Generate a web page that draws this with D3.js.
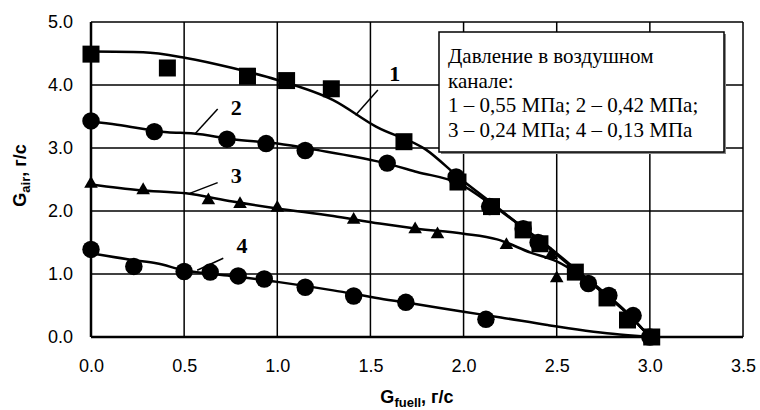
<!DOCTYPE html>
<html>
<head>
<meta charset="utf-8">
<script src="https://cdn.jsdelivr.net/npm/d3@7"></script>
<style>
  body { margin: 0; background: #fff; }
  .tick-label { font: 18px "Liberation Sans", Arial, sans-serif; fill: #000; }
  .axis-title { font: bold 18px "Liberation Sans", Arial, sans-serif; fill: #000; }
  .legend-text { font: 21px "Liberation Serif", "Times New Roman", serif; fill: #000; }
  .curve-label { font: bold 22px "Liberation Serif", "Times New Roman", serif; fill: #000; }
</style>
</head>
<body>
<div class="chart1"></div>
<script>
// ticks
var xTicks = [0.0, 0.5, 1.0, 1.5, 2.0, 2.5, 3.0, 3.5];
var yTicks = [0.0, 1.0, 2.0, 3.0, 4.0, 5.0];

// measured points [G_fuell, G_air]
var points1 = [[0.0, 4.49], [0.41, 4.27], [0.84, 4.14], [1.05, 4.07], [1.29, 3.94], [1.68, 3.10], [1.97, 2.46], [2.15, 2.07], [2.32, 1.70], [2.41, 1.48], [2.60, 1.03], [2.77, 0.62], [2.88, 0.27], [3.01, 0.0]];
var points2 = [[0.0, 3.43], [0.34, 3.26], [0.73, 3.14], [0.94, 3.07], [1.15, 2.96], [1.59, 2.76], [1.96, 2.54], [2.14, 2.07], [2.32, 1.72], [2.40, 1.50], [2.67, 0.85], [2.78, 0.66], [2.91, 0.34], [3.0, 0.0]];
var points3 = [[0.0, 2.43], [0.28, 2.33], [0.63, 2.17], [0.80, 2.11], [1.0, 2.05], [1.41, 1.86], [1.74, 1.71], [1.86, 1.63], [2.23, 1.46], [2.47, 1.30], [2.50, 0.93]];
var points4 = [[0.0, 1.39], [0.23, 1.12], [0.50, 1.04], [0.64, 1.03], [0.79, 0.97], [0.93, 0.92], [1.15, 0.79], [1.41, 0.65], [1.69, 0.55], [2.12, 0.28]];

// trend curves
var curve1 = [[0.0, 4.53], [0.28, 4.52], [0.51, 4.43], [0.76, 4.27], [1.0, 4.08], [1.3, 3.76], [1.53, 3.34], [1.8, 2.97], [1.98, 2.52], [2.15, 2.13], [2.3, 1.78], [2.45, 1.45], [2.6, 1.08], [2.75, 0.72], [2.88, 0.38], [3.0, 0.0]];
var curve2 = [[0.0, 3.42], [0.14, 3.37], [0.41, 3.25], [0.55, 3.23], [0.76, 3.14], [1.0, 3.07], [1.21, 2.97], [1.55, 2.78], [1.75, 2.62], [1.98, 2.43], [2.15, 2.1], [2.3, 1.78], [2.45, 1.43], [2.6, 1.06], [2.75, 0.7], [2.88, 0.37], [3.0, 0.0]];
var curve3 = [[0.0, 2.42], [0.26, 2.33], [0.51, 2.28], [0.76, 2.15], [1.0, 2.04], [1.3, 1.92], [1.55, 1.80], [1.75, 1.72], [2.0, 1.64], [2.18, 1.55], [2.36, 1.34], [2.5, 1.2], [2.6, 1.03], [2.75, 0.7], [2.88, 0.37], [3.0, 0.0]];
var curve4 = [[0.0, 1.33], [0.23, 1.22], [0.35, 1.17], [0.5, 1.06], [0.75, 0.97], [1.0, 0.875], [1.3, 0.74], [1.55, 0.61], [1.75, 0.52], [2.0, 0.40], [2.2, 0.31], [2.45, 0.19], [2.8, 0.05], [3.0, 0.0]];

// curve numbers: [label, textX, textY, leaderX1, leaderY1, leaderX2, leaderY2]
var curveLabels = [
  ["1", 1.63, 4.19, 1.54, 3.92, 1.42, 3.52],
  ["2", 0.78, 3.64, 0.68, 3.62, 0.56, 3.23],
  ["3", 0.78, 2.57, 0.68, 2.45, 0.53, 2.28],
  ["4", 0.81, 1.46, 0.71, 1.25, 0.57, 1.06]
];

var legendLines = [
  "Давление в воздушном",
  "канале:",
  "1 – 0,55 МПа; 2 – 0,42 МПа;",
  "3 – 0,24 МПа; 4 – 0,13 МПа"
];

var margin = { top: 22, right: 17, bottom: 73, left: 91 };
var width = 760 - margin.left - margin.right;
var height = 410 - margin.top - margin.bottom;
var xScale = d3.scaleLinear().domain([0, 3.5]).range([0, width]);
var yScale = d3.scaleLinear().domain([0, 5]).range([height, 0]);

var svg = d3.select('.chart1')
  .append('svg')
  .attr("width", 760)
  .attr("height", 410);

var chart = svg.append("g")
  .attr("transform", "translate(" + margin.left + "," + margin.top + ")");

/* grid */
chart.selectAll(".vgrid")
  .data(xTicks.slice(1))
  .enter().append("line")
  .attr("x1", function (d) { return xScale(d); })
  .attr("x2", function (d) { return xScale(d); })
  .attr("y1", 0).attr("y2", height)
  .attr("stroke", "#000").attr("stroke-width", 1.5);

chart.selectAll(".hgrid")
  .data(yTicks.slice(1))
  .enter().append("line")
  .attr("y1", function (d) { return yScale(d); })
  .attr("y2", function (d) { return yScale(d); })
  .attr("x1", 0).attr("x2", width)
  .attr("stroke", "#000").attr("stroke-width", 1.5);

/* axes */
var xAxis = chart.append("g")
  .attr("transform", "translate(0," + height + ")")
  .call(d3.axisBottom(xScale).tickValues(xTicks).tickSize(0).tickPadding(22).tickFormat(d3.format(".1f")));
var yAxis = chart.append("g")
  .call(d3.axisLeft(yScale).tickValues(yTicks).tickSize(0).tickPadding(18).tickFormat(d3.format(".1f")));

[xAxis, yAxis].forEach(function (ax) {
  ax.select(".domain").remove();
  ax.selectAll("text").attr("class", "tick-label").attr("font-size", null).attr("font-family", null);
  ax.attr("font-size", null).attr("font-family", null);
});

chart.append("line")
  .attr("x1", 0).attr("x2", width).attr("y1", height).attr("y2", height)
  .attr("stroke", "#000").attr("stroke-width", 2.5);
chart.append("line")
  .attr("x1", 0).attr("x2", 0).attr("y1", 0).attr("y2", height)
  .attr("stroke", "#000").attr("stroke-width", 2.5);

/* curves */
var line = d3.line()
  .curve(d3.curveMonotoneX)
  .x(function (d) { return xScale(d[0]); })
  .y(function (d) { return yScale(d[1]); });

[curve4, curve3, curve2, curve1].forEach(function (c) {
  chart.append("path")
    .attr("d", line(c))
    .attr("fill", "none")
    .attr("stroke", "#000")
    .attr("stroke-width", 2.5);
});

/* markers */
function drawPoints(data, type, size) {
  chart.append("g").selectAll("path")
    .data(data)
    .enter().append("path")
    .attr("d", d3.symbol().type(type).size(size))
    .attr("transform", function (d) { return "translate(" + xScale(d[0]) + "," + yScale(d[1]) + ")"; })
    .attr("fill", "#000");
}
drawPoints(points4, d3.symbolCircle, 240);
drawPoints(points3, d3.symbolTriangle, 80);
drawPoints(points1, d3.symbolSquare, 289);
drawPoints(points2, d3.symbolCircle, 240);

/* curve numbers */
var lab = chart.selectAll(".clabel")
  .data(curveLabels)
  .enter().append("g");
lab.append("line")
  .attr("x1", function (d) { return xScale(d[3]); })
  .attr("y1", function (d) { return yScale(d[4]); })
  .attr("x2", function (d) { return xScale(d[5]); })
  .attr("y2", function (d) { return yScale(d[6]); })
  .attr("stroke", "#000").attr("stroke-width", 1.5);
lab.append("text")
  .attr("class", "curve-label")
  .attr("x", function (d) { return xScale(d[1]); })
  .attr("y", function (d) { return yScale(d[2]); })
  .attr("dy", "0.35em")
  .attr("text-anchor", "middle")
  .text(function (d) { return d[0]; });

/* legend box */
var legend = svg.append("g").attr("transform", "translate(439,32)");
legend.append("rect")
  .attr("x", 2).attr("y", 2).attr("width", 285).attr("height", 120)
  .attr("fill", "#888");
legend.append("rect")
  .attr("width", 285).attr("height", 120)
  .attr("fill", "#fff").attr("stroke", "#000").attr("stroke-width", 1.5);
legend.selectAll("text")
  .data(legendLines)
  .enter().append("text")
  .attr("class", "legend-text")
  .attr("x", 9)
  .attr("y", function (d, i) { return 31 + i * 24.5; })
  .text(function (d) { return d; });

/* axis titles */
var xt = svg.append("text")
  .attr("class", "axis-title")
  .attr("x", margin.left + width / 2)
  .attr("y", 403)
  .attr("text-anchor", "middle");
xt.append("tspan").text("G");
xt.append("tspan").attr("font-size", "13px").attr("dy", 4).text("fuell");
xt.append("tspan").attr("dy", -4).text(", г/с");

var yt = svg.append("text")
  .attr("class", "axis-title")
  .attr("transform", "translate(26," + (margin.top + height / 2 - 4) + ") rotate(-90)")
  .attr("text-anchor", "middle");
yt.append("tspan").text("G");
yt.append("tspan").attr("font-size", "13px").attr("dy", 4).text("air");
yt.append("tspan").attr("dy", -4).text(", г/с");
</script>
</body>
</html>
